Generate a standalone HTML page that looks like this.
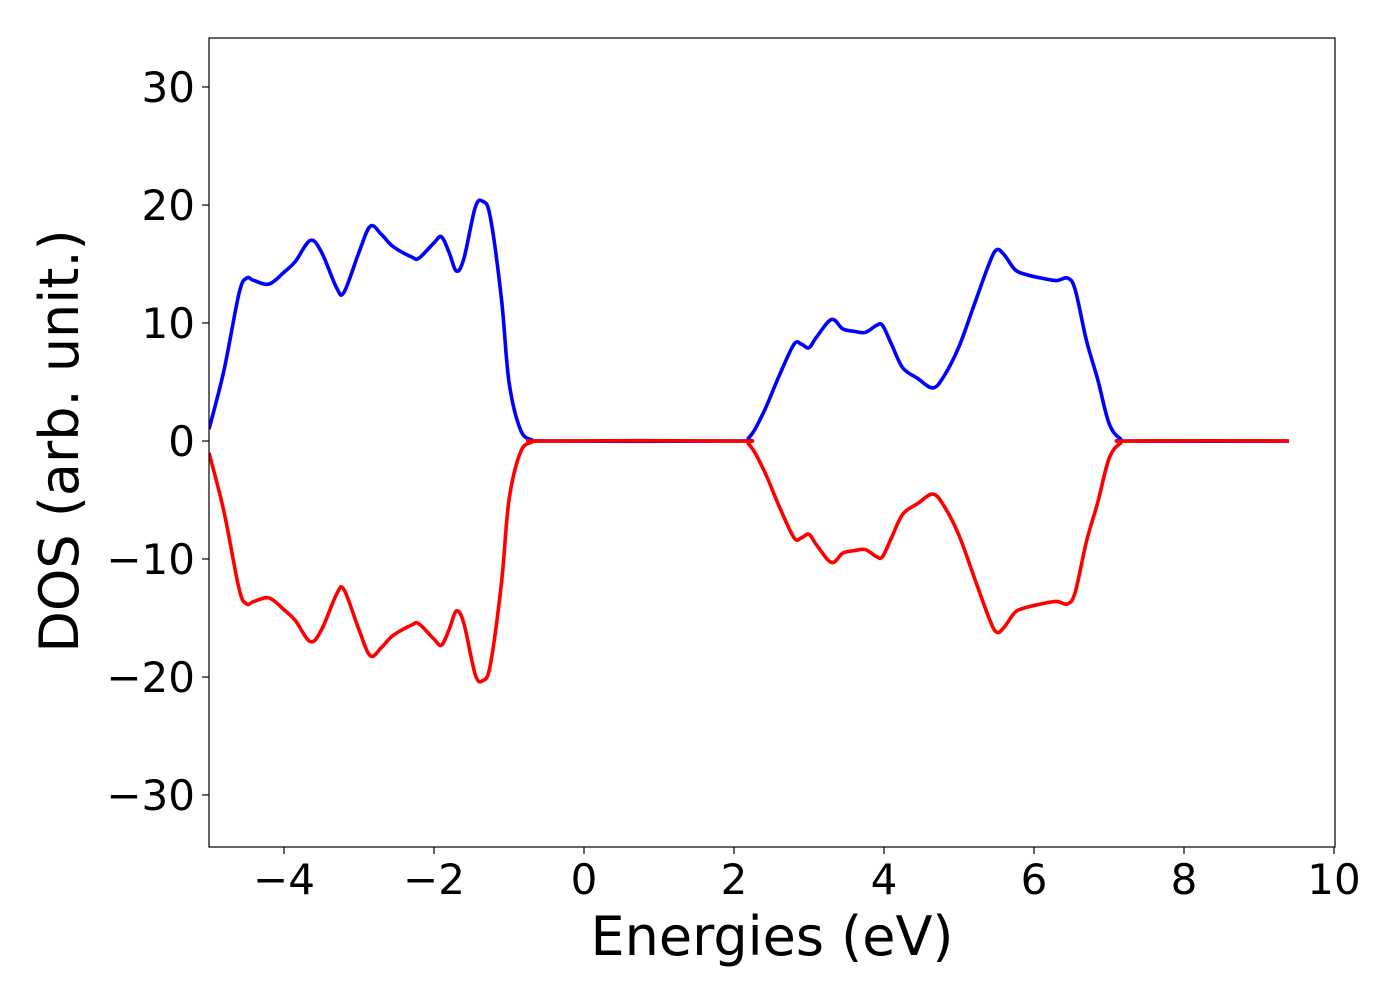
<!DOCTYPE html>
<html><head><meta charset="utf-8"><style>
html,body{margin:0;padding:0;background:#fff;}
svg text{font-family:"DejaVu Sans","Liberation Sans",sans-serif;fill:#000;}
</style></head><body>
<svg id="chart" width="1400" height="1000" xmlns="http://www.w3.org/2000/svg">
<rect x="0" y="0" width="1400" height="1000" fill="#fff"/>
<g id="plot"></g>
<rect x="209" y="38" width="1126" height="809" fill="none" stroke="#000" stroke-width="1.2"/>
<g id="axes"></g>
<text x="772" y="955" font-size="54" text-anchor="middle">Energies (eV)</text>
<text transform="translate(78,441) rotate(-90)" font-size="54" text-anchor="middle">DOS (arb. unit.)</text>
</svg>
<script>
const energies = [-5.0,-4.8,-4.6,-4.5,-4.4,-4.2,-4.0,-3.85,-3.65,-3.5,-3.3,-3.2,-3.0,-2.85,-2.7,-2.55,-2.3,-2.2,-2.0,-1.9,-1.8,-1.7,-1.6,-1.45,-1.35,-1.25,-1.1,-1.0,-0.85,-0.7,-0.5,2.0,2.2,2.4,2.6,2.8,2.9,3.0,3.1,3.3,3.45,3.6,3.75,3.9,3.98,4.1,4.25,4.45,4.65,4.8,5.0,5.2,5.4,5.5,5.6,5.75,5.9,6.1,6.3,6.45,6.55,6.7,6.85,7.0,7.15,7.3,9.4];
const dosUp = [1,6,12.5,13.8,13.6,13.3,14.3,15.2,17,16,13,12.6,16,18.2,17.5,16.5,15.6,15.5,16.8,17.3,16,14.4,15.5,19.8,20.3,19,12,5,1,0.1,0,0,0.3,2.5,5.5,8.2,8.2,7.9,8.8,10.3,9.5,9.3,9.2,9.8,9.8,8.2,6.2,5.3,4.5,5.5,8,11.5,15,16.2,15.8,14.5,14.1,13.8,13.6,13.8,12.8,8.5,5.2,1.5,0.2,0,0];
const dosDown = [-1,-6,-12.5,-13.8,-13.6,-13.3,-14.3,-15.2,-17,-16,-13,-12.6,-16,-18.2,-17.5,-16.5,-15.6,-15.5,-16.8,-17.3,-16,-14.4,-15.5,-19.8,-20.3,-19,-12,-5,-1,-0.1,0,0,-0.3,-2.5,-5.5,-8.2,-8.2,-7.9,-8.8,-10.3,-9.5,-9.3,-9.2,-9.8,-9.8,-8.2,-6.2,-5.3,-4.5,-5.5,-8,-11.5,-15,-16.2,-15.8,-14.5,-14.1,-13.8,-13.6,-13.8,-12.8,-8.5,-5.2,-1.5,-0.2,0,0];
const xTicks = [-4,-2,0,2,4,6,8,10];
const yTicks = [-30,-20,-10,0,10,20,30];

const NS="http://www.w3.org/2000/svg";
function xs(v){return 584+75*v;}
function ys(v){return 441-11.8*v;}
function pathFor(xv,yv){
  const p=xv.map((x,i)=>[xs(x),ys(yv[i])]);
  let d="M"+p[0][0]+","+p[0][1];
  for(let i=0;i<p.length-1;i++){
    const p0=p[Math.max(0,i-1)],p1=p[i],p2=p[i+1],p3=p[Math.min(p.length-1,i+2)];
    const c1=[p1[0]+(p2[0]-p0[0])/6,p1[1]+(p2[1]-p0[1])/6];
    const c2=[p2[0]-(p3[0]-p1[0])/6,p2[1]-(p3[1]-p1[1])/6];
    d+=" C"+c1[0]+","+c1[1]+" "+c2[0]+","+c2[1]+" "+p2[0]+","+p2[1];
  }
  return d;
}
const plot=document.getElementById('plot');
const clip=document.createElementNS(NS,'clipPath');clip.setAttribute('id','cp');
const cr=document.createElementNS(NS,'rect');cr.setAttribute('x',209);cr.setAttribute('y',38);cr.setAttribute('width',1126);cr.setAttribute('height',809);
clip.appendChild(cr);plot.appendChild(clip);
plot.setAttribute('clip-path','url(#cp)');
const up=document.createElementNS(NS,'path');


up.setAttribute('d',pathFor(energies,dosUp));up.setAttribute('fill','none');up.setAttribute('stroke','#0000ff');up.setAttribute('stroke-width','3.6');
plot.appendChild(up);
const dn=document.createElementNS(NS,'path');


dn.setAttribute('d',pathFor(energies,dosDown));dn.setAttribute('fill','none');dn.setAttribute('stroke','#ff0000');dn.setAttribute('stroke-width','3.6');
plot.appendChild(dn);

const axes=document.getElementById('axes');
xTicks.forEach(t=>{
  const l=document.createElementNS(NS,'line');
  
  
  l.setAttribute('x1',xs(t));l.setAttribute('x2',xs(t));l.setAttribute('y1',847);l.setAttribute('y2',854);l.setAttribute('stroke','#000');l.setAttribute('stroke-width','1.2');
  axes.appendChild(l);
  const tx=document.createElementNS(NS,'text');
  
  
  tx.setAttribute('x',xs(t));tx.setAttribute('y',894);tx.setAttribute('font-size','42');tx.setAttribute('text-anchor','middle');
  tx.textContent=(t<0?'\u2212'+(-t):''+t);
  axes.appendChild(tx);
});
yTicks.forEach(t=>{
  const l=document.createElementNS(NS,'line');
  
  
  l.setAttribute('x1',202);l.setAttribute('x2',209);l.setAttribute('y1',ys(t));l.setAttribute('y2',ys(t));l.setAttribute('stroke','#000');l.setAttribute('stroke-width','1.2');
  axes.appendChild(l);
  const tx=document.createElementNS(NS,'text');
  
  
  tx.setAttribute('x',195);tx.setAttribute('y',ys(t)+15);tx.setAttribute('font-size','42');tx.setAttribute('text-anchor','end');
  tx.textContent=(t<0?'\u2212'+(-t):''+t);
  axes.appendChild(tx);
});
</script>
</body></html>
